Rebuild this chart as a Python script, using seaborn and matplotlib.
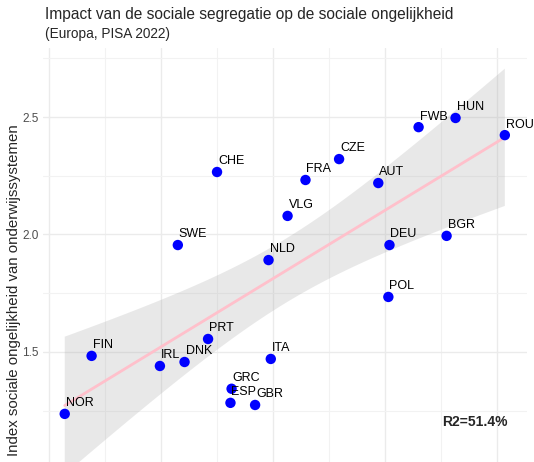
import numpy as np
import pandas as pd
import seaborn as sns
import matplotlib.pyplot as plt
from matplotlib.ticker import MultipleLocator, FixedLocator

# Waarden
landen = ["NOR", "FIN", "IRL", "DNK", "PRT", "GRC", "ESP", "GBR", "ITA", "CHE", "SWE",
          "NLD", "VLG", "FRA", "CZE", "AUT", "DEU", "POL", "BGR", "FWB", "HUN", "ROU"]
segregatie = [0.114, 0.138, 0.199, 0.221, 0.242, 0.263, 0.262, 0.284, 0.298, 0.250, 0.215,
              0.296, 0.313, 0.329, 0.359, 0.394, 0.404, 0.403, 0.455, 0.430, 0.463, 0.507]
ongelijkheid = [1.236, 1.483, 1.440, 1.457, 1.555, 1.343, 1.283, 1.274, 1.470, 2.266, 1.955,
                1.891, 2.079, 2.232, 2.321, 2.219, 1.955, 1.734, 1.994, 2.457, 2.496, 2.423]
y_ticks = [1.5, 2.0, 2.5]

df = pd.DataFrame({"land": landen, "segregatie": segregatie, "ongelijkheid": ongelijkheid})

sns.set_theme(style="white")
plt.rcParams['font.family'] = ['Liberation Sans', 'DejaVu Sans']

fig = plt.figure(figsize=(5.34, 4.62), dpi=100)
# paneel loopt onder de figuur door (x-as valt weg zoals in het origineel)
ax = fig.add_axes([43 / 534, -20 / 462, 484 / 534, 434 / 462])

# lineaire fit met t-gebaseerd 95%-betrouwbaarheidsinterval (zoals geom_smooth)
x = df["segregatie"].to_numpy()
y = df["ongelijkheid"].to_numpy()
n = len(x)
b1, b0 = np.polyfit(x, y, 1)
resid = y - (b0 + b1 * x)
s = np.sqrt((resid ** 2).sum() / (n - 2))
grid = np.linspace(x.min(), x.max(), 100)
se = s * np.sqrt(1 / n + (grid - x.mean()) ** 2 / ((x - x.mean()) ** 2).sum())
t = 2.086  # t(0.975, df=20)
ax.fill_between(grid, b0 + b1 * grid - t * se, b0 + b1 * grid + t * se,
                facecolor="#999999", alpha=0.22, edgecolor="none", zorder=2)

sns.regplot(data=df, x="segregatie", y="ongelijkheid", scatter=False, ci=None, ax=ax,
            line_kws={"color": "pink", "linewidth": 2, "zorder": 3})

sns.scatterplot(data=df, x="segregatie", y="ongelijkheid", color="#0000FF", s=56,
                edgecolor="none", ax=ax, zorder=4)

for _, r in df.iterrows():
    ax.annotate(r["land"], (r["segregatie"], r["ongelijkheid"]), xytext=(0.7, 3.3),
                textcoords="offset points", ha="left", va="bottom", fontsize=9,
                color="black", annotation_clip=False, zorder=5)

ax.set_xlim(0.0946, 0.5268)
ax.set_ylim(0.946, 2.794)
ax.xaxis.set_major_locator(MultipleLocator(0.1))
ax.xaxis.set_minor_locator(MultipleLocator(0.05))
ax.yaxis.set_major_locator(FixedLocator(y_ticks))
ax.yaxis.set_minor_locator(FixedLocator([1.25, 1.75, 2.25, 2.75]))
ax.grid(which="major", color="#EBEBEB", linewidth=1.0)
ax.grid(which="minor", color="#F2F2F2", linewidth=0.8)
ax.set_axisbelow(True)
for sp in ax.spines.values():
    sp.set_visible(False)
ax.tick_params(which="both", length=0, labelsize=8.5, labelcolor="#4D4D4D", pad=3)
ax.set_xticklabels([])
ax.set_xlabel("")
ax.set_ylabel("Index sociale ongelijkheid van onderwijssystemen", fontsize=10.8)
ax.yaxis.set_label_coords(-0.046, 0.442)

ax.text(0.959, 0.138, "R2=51.4%", transform=ax.transAxes, ha="right", va="center",
        fontsize=10, fontweight="bold")

fig.text(45 / 534, 1 - 14 / 462, "Impact van de sociale segregatie op de sociale ongelijkheid",
         fontsize=11.2, va="center", ha="left")
fig.text(45 / 534, 1 - 34 / 462, "(Europa, PISA 2022)", fontsize=9.8, va="center", ha="left")

fig.savefig("out.png", dpi=100)
